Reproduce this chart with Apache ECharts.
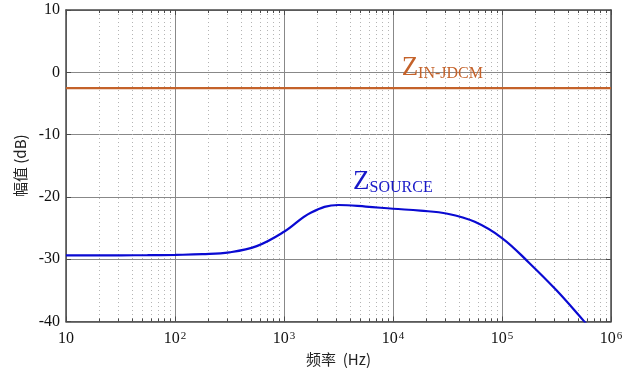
<!DOCTYPE html>
<html>
<head>
<meta charset="utf-8">
<script src="https://cdn.jsdelivr.net/npm/echarts@6/dist/echarts.min.js"></script>
<style>
  html, body { margin: 0; padding: 0; background: #fff; }
  #main { width: 634px; height: 376px; }
</style>
</head>
<body>
<div id="main"></div>
<script>
// 频率点 (Hz, 每 1/4 十倍频程读取一次) 与 Z_SOURCE 幅值 (dB)
const freq = [10, 18, 32, 56, 100, 178, 316, 562, 1000, 1778, 3162, 5623,
  10000, 17783, 31623, 56234, 100000, 177828, 316228, 562341, 1000000];
const zSource = [-29.4, -29.4, -29.38, -29.35, -29.3, -29.2, -28.9, -27.9, -25.6, -22.5, -21.3, -21.55,
  -21.9, -22.2, -22.7, -24.0, -26.6, -30.6, -35.0, -39.9, -44.8];
// Z_IN-JDCM 为常值
const zInFreq = [10, 1000000];
const zIn = [-2.55, -2.55];
// 坐标轴刻度
const decades = [10, 100, 1000, 10000, 100000];
const minorMult = [2, 3, 4, 5, 6, 7, 8, 9];
const minorX = [];
decades.forEach(d => minorMult.forEach(k => minorX.push(k * d)));

const serif = '"Liberation Serif", "Times New Roman", serif';
const frameColor = '#4a4a4a';

const chart = echarts.init(document.getElementById('main'));

const xLabel = v => {
  const e = Math.round(Math.log10(v));
  return e === 1 ? '{b|10}' : '{b|10}{s|' + e + '}';
};

chart.setOption({
  animation: false,
  grid: { left: 66, right: 23, top: 10, bottom: 54.5 },
  xAxis: [
    {
      type: 'log', logBase: 10, min: 10, max: 1000000,
      name: '频率  (Hz)', nameLocation: 'middle', nameGap: 29,
      nameTextStyle: { fontFamily: '"Noto Sans CJK SC", ' + serif, fontSize: 15, color: '#222' },
      axisLine: { show: true, onZero: false, lineStyle: { color: frameColor, width: 1.5 } },
      axisTick: { show: true, inside: true, length: 5, lineStyle: { color: frameColor } },
      axisLabel: {
        formatter: xLabel, margin: 9,
        rich: {
          b: { fontFamily: serif, fontSize: 16, color: '#111', verticalAlign: 'bottom' },
          s: { fontFamily: serif, fontSize: 11, color: '#111', verticalAlign: 'top', padding: [0, 0, 0, 1] }
        }
      },
      splitLine: { show: true, lineStyle: { color: '#888', width: 1 } }
    },
    {
      type: 'log', logBase: 10, min: 10, max: 1000000, position: 'top',
      axisLine: { show: true, onZero: false, lineStyle: { color: frameColor, width: 1.5 } },
      axisTick: { show: true, inside: true, length: 5, lineStyle: { color: frameColor } },
      axisLabel: { show: false },
      splitLine: { show: false }
    }
  ],
  yAxis: [
    {
      type: 'value', min: -40, max: 10, interval: 10,
      name: '幅值 (dB)', nameLocation: 'middle', nameGap: 38, nameRotate: 90,
      nameTextStyle: { fontFamily: '"Noto Sans CJK SC", ' + serif, fontSize: 15, color: '#222' },
      axisLine: { show: true, onZero: false, lineStyle: { color: frameColor, width: 1.5 } },
      axisTick: { show: true, inside: true, length: 5, lineStyle: { color: frameColor } },
      axisLabel: { fontFamily: serif, fontSize: 16, color: '#111', margin: 6 },
      splitLine: { show: true, lineStyle: { color: '#888', width: 1 } }
    },
    {
      type: 'value', min: -40, max: 10, interval: 10, position: 'right',
      axisLine: { show: true, onZero: false, lineStyle: { color: frameColor, width: 1.5 } },
      axisTick: { show: true, inside: true, length: 5, lineStyle: { color: frameColor } },
      axisLabel: { show: false },
      splitLine: { show: false }
    }
  ],
  series: [
    {
      // 次刻度与点状网格线
      type: 'custom', xAxisIndex: 0, yAxisIndex: 0, z: 1, silent: true,
      data: minorX.map(v => [v, 0]),
      renderItem: (params, api) => {
        const x = Math.round(api.coord([api.value(0), 0])[0]) + 0.5;
        const cs = params.coordSys;
        const y0 = cs.y, y1 = cs.y + cs.height;
        return {
          type: 'group',
          children: [
            { type: 'line', shape: { x1: x, y1: y0, x2: x, y2: y1 },
              style: { stroke: '#b4b4b4', lineWidth: 1, lineDash: [1, 3] } },
            { type: 'line', shape: { x1: x, y1: y1, x2: x, y2: y1 - 3 },
              style: { stroke: frameColor, lineWidth: 1 } },
            { type: 'line', shape: { x1: x, y1: y0, x2: x, y2: y0 + 3 },
              style: { stroke: frameColor, lineWidth: 1 } }
          ]
        };
      }
    },
    {
      name: 'Z_IN-JDCM', type: 'line', z: 3, symbol: 'none',
      data: zInFreq.map((f, i) => [f, zIn[i]]),
      lineStyle: { color: '#c4622a', width: 2.2 },
      markPoint: {
        symbol: 'rect', symbolSize: 0, silent: true,
        label: {
          show: true, position: 'inside', align: 'left', verticalAlign: 'bottom',
          formatter: '{z|Z}{s|IN-JDCM}',
          rich: {
            z: { fontFamily: serif, fontSize: 27, color: '#c4622a', verticalAlign: 'bottom' },
            s: { fontFamily: serif, fontSize: 16, color: '#c4622a', verticalAlign: 'bottom' }
          }
        },
        data: [{ coord: [12000, -1.5] }]
      }
    },
    {
      name: 'Z_SOURCE', type: 'line', z: 3, symbol: 'none', smooth: 0.4, clip: true,
      data: freq.map((f, i) => [f, zSource[i]]),
      lineStyle: { color: '#0a0ad2', width: 2.2 },
      markPoint: {
        symbol: 'rect', symbolSize: 0, silent: true,
        label: {
          show: true, position: 'inside', align: 'left', verticalAlign: 'bottom',
          formatter: '{z|Z}{s|SOURCE}',
          rich: {
            z: { fontFamily: serif, fontSize: 27, color: '#1818c8', verticalAlign: 'bottom' },
            s: { fontFamily: serif, fontSize: 16, color: '#1818c8', verticalAlign: 'bottom' }
          }
        },
        data: [{ coord: [4300, -19.8] }]
      }
    }
  ]
});
</script>
</body>
</html>
